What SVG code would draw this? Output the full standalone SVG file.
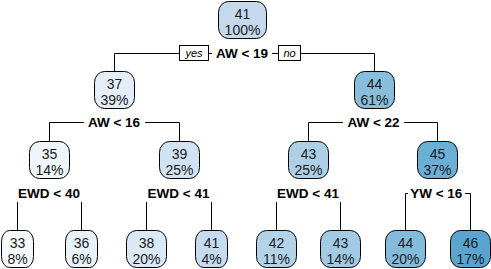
<svg xmlns="http://www.w3.org/2000/svg" width="491" height="269" viewBox="0 0 491 269">
<style>
.bg{fill:#ffffff}
.node rect{stroke:#000;stroke-width:1}
.node text{font-family:"Liberation Sans",Arial,sans-serif;font-size:14px;fill:#1a1a1a;text-anchor:middle}
.conn path{fill:none;stroke:#000;stroke-width:1}
.split rect{fill:#fff;stroke:none}
.split text{font-family:"Liberation Sans",Arial,sans-serif;font-size:13.5px;font-weight:bold;fill:#000;text-anchor:middle}
.yn rect{fill:#fff;stroke:#000;stroke-width:1}
.yn text{font-family:"Liberation Sans",Arial,sans-serif;font-size:11px;font-style:italic;fill:#000;text-anchor:middle}
</style>
<rect class="bg" x="0" y="0" width="491" height="269"/>
<g id="connectors" class="conn">
<path d="M114.5,71.5 V53.5 H374.5 V71.5"/>
<path d="M49.5,141.5 V122.5 H179.5 V141.5"/>
<path d="M308.5,141.5 V122.5 H437.5 V141.5"/>
<path d="M17.5,230.5 V193.5 H81.5 V230.5"/>
<path d="M146.5,230.5 V193.5 H211.5 V230.5"/>
<path d="M276.5,230.5 V193.5 H340.5 V230.5"/>
<path d="M405.5,230.5 V193.5 H470.5 V230.5"/>
</g>
<g id="split-root" class="split"><rect x="212" y="44.5" width="60" height="18"/><text x="242" y="58.3">AW &lt; 19</text></g>
<g id="yes-label" class="yn"><rect x="179.5" y="45.5" width="29" height="15"/><text x="194" y="57">yes</text></g>
<g id="no-label" class="yn"><rect x="278.5" y="45.5" width="22" height="15"/><text x="289.5" y="57">no</text></g>
<g id="split-n37" class="split"><rect x="84" y="113.5" width="61" height="18"/><text x="114" y="127.3">AW &lt; 16</text></g>
<g id="split-n44" class="split"><rect x="343" y="113.5" width="61" height="18"/><text x="373.5" y="127.3">AW &lt; 22</text></g>
<g id="split-n35" class="split"><rect x="15" y="184" width="68" height="18"/><text x="49" y="198.3">EWD &lt; 40</text></g>
<g id="split-n39" class="split"><rect x="144" y="184" width="69" height="18"/><text x="178.5" y="198.3">EWD &lt; 41</text></g>
<g id="split-n43" class="split"><rect x="274" y="184" width="68" height="18"/><text x="308" y="198.3">EWD &lt; 41</text></g>
<g id="split-n45" class="split"><rect x="408" y="184" width="57" height="18"/><text x="436.3" y="198.3">YW &lt; 16</text></g>
<g id="node-1" class="node"><rect x="218.5" y="1.5" width="48" height="37" rx="10" ry="11" fill="#C4D9EE"/><text x="242.5" y="19">41</text><text x="242.5" y="35">100%</text></g>
<g id="node-2" class="node"><rect x="94.5" y="71.5" width="40" height="37" rx="10" ry="11" fill="#E4EEF9"/><text x="114.5" y="89">37</text><text x="114.5" y="105">39%</text></g>
<g id="node-3" class="node"><rect x="354.5" y="71.5" width="40" height="37" rx="10" ry="11" fill="#88BEDC"/><text x="374.5" y="89">44</text><text x="374.5" y="105">61%</text></g>
<g id="node-4" class="node"><rect x="29.5" y="141.5" width="40" height="37" rx="10" ry="11" fill="#EEF5FC"/><text x="49.5" y="159">35</text><text x="49.5" y="175">14%</text></g>
<g id="node-5" class="node"><rect x="159.5" y="141.5" width="40" height="37" rx="10" ry="11" fill="#D1E2F3"/><text x="179.5" y="159">39</text><text x="179.5" y="175">25%</text></g>
<g id="node-6" class="node"><rect x="288.5" y="141.5" width="40" height="37" rx="10" ry="11" fill="#ADD0E7"/><text x="308.5" y="159">43</text><text x="308.5" y="175">25%</text></g>
<g id="node-7" class="node"><rect x="417.5" y="141.5" width="40" height="37" rx="10" ry="11" fill="#6BAED6"/><text x="437.5" y="159">45</text><text x="437.5" y="175">37%</text></g>
<g id="node-8" class="node"><rect x="1.5" y="230.5" width="32" height="37" rx="8" ry="11" fill="#F6FAFE"/><text x="17.5" y="248">33</text><text x="17.5" y="264">8%</text></g>
<g id="node-9" class="node"><rect x="65.5" y="230.5" width="32" height="37" rx="8" ry="11" fill="#E9F2FB"/><text x="81.5" y="248">36</text><text x="81.5" y="264">6%</text></g>
<g id="node-10" class="node"><rect x="126.5" y="230.5" width="40" height="37" rx="10" ry="11" fill="#DBE9F6"/><text x="146.5" y="248">38</text><text x="146.5" y="264">20%</text></g>
<g id="node-11" class="node"><rect x="195.5" y="230.5" width="32" height="37" rx="8" ry="11" fill="#C6DBEF"/><text x="211.5" y="248">41</text><text x="211.5" y="264">4%</text></g>
<g id="node-12" class="node"><rect x="256.5" y="230.5" width="40" height="37" rx="10" ry="11" fill="#B3D3E9"/><text x="276.5" y="248">42</text><text x="276.5" y="264">11%</text></g>
<g id="node-13" class="node"><rect x="320.5" y="230.5" width="40" height="37" rx="10" ry="11" fill="#A3CAE3"/><text x="340.5" y="248">43</text><text x="340.5" y="264">14%</text></g>
<g id="node-14" class="node"><rect x="385.5" y="230.5" width="40" height="37" rx="10" ry="11" fill="#84BBDB"/><text x="405.5" y="248">44</text><text x="405.5" y="264">20%</text></g>
<g id="node-15" class="node"><rect x="450.5" y="230.5" width="40" height="37" rx="10" ry="11" fill="#5CA4D0"/><text x="470.5" y="248">46</text><text x="470.5" y="264">17%</text></g>
</svg>
